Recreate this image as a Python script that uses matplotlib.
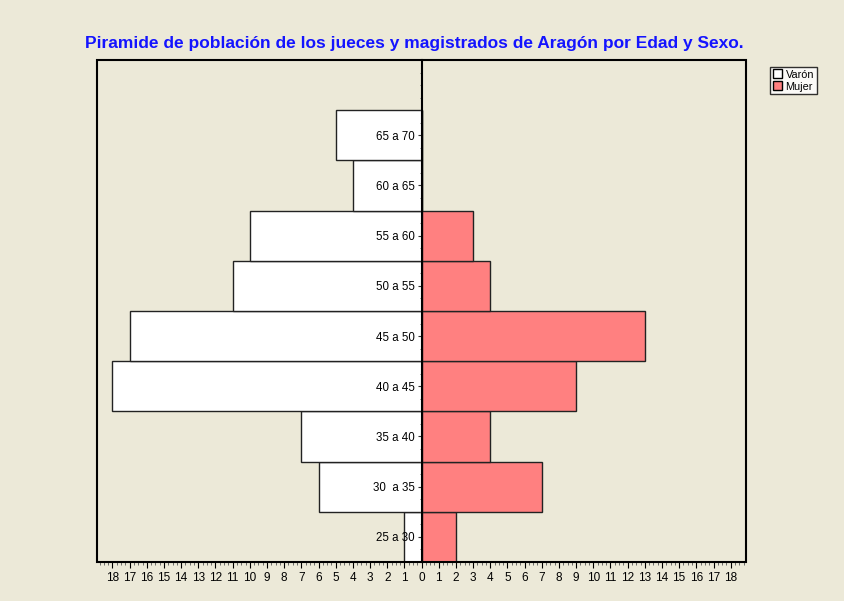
import matplotlib.pyplot as plt
from matplotlib.patches import Rectangle, Patch
from matplotlib.ticker import MultipleLocator, FuncFormatter

plt.rcParams['font.family'] = ['Liberation Sans', 'DejaVu Sans']

grupos = ['25 a 30', '30  a 35', '35 a 40', '40 a 45', '45 a 50',
          '50 a 55', '55 a 60', '60 a 65', '65 a 70']
varones = [1, 6, 7, 18, 17, 11, 10, 4, 5]
mujeres = [2, 7, 4, 9, 13, 4, 3, 0, 0]

bg = '#ECE9D8'
fig = plt.figure(figsize=(8.45, 6.01), dpi=100, facecolor=bg)
ax = fig.add_axes([0.1148, 0.0649, 0.7682, 0.8353], facecolor=bg)

y = range(len(grupos))
ax.barh(y, [-v for v in varones], height=1.0, color='white',
        edgecolor='#222222', linewidth=1, label='Varón', zorder=1)
ax.barh(y, mujeres, height=1.0, color='#FF8080',
        edgecolor='#222222', linewidth=1, label='Mujer', zorder=1)

ax.set_xlim(-18.9, 18.9)
ax.set_ylim(-0.5, 9.5)

# eje vertical en el cero
for s in ['top', 'right', 'bottom']:
    ax.spines[s].set_visible(False)
ax.spines['left'].set_position(('data', 0))
ax.spines['left'].set_linewidth(1.5)
ax.add_patch(Rectangle((0, 0), 1, 1, transform=ax.transAxes, fill=False,
                       lw=1.5, edgecolor='black', clip_on=False, zorder=3))

ax.set_yticks(list(y))
ax.set_yticklabels(grupos)
ax.yaxis.set_minor_locator(MultipleLocator(0.25))
ax.tick_params(axis='y', which='major', direction='out', length=3,
               labelsize=8.3, pad=2, color='#333333')
ax.tick_params(axis='y', which='minor', direction='out', length=1.5,
               color='#555555')

ax.xaxis.set_major_locator(MultipleLocator(1))
ax.xaxis.set_minor_locator(MultipleLocator(0.25))
ax.xaxis.set_major_formatter(FuncFormatter(lambda v, p: f'{abs(int(round(v)))}'))
ax.tick_params(axis='x', which='major', direction='out', length=4,
               labelsize=8.5, pad=3)
ax.tick_params(axis='x', which='minor', direction='out', length=2,
               color='#555555')
ax.set_xticks(range(-18, 19))

fig.text(0.49, 0.927, 'Piramide de población de los jueces y magistrados de Aragón por Edad y Sexo.',
         ha='center', va='center', color='#1414FF', fontsize=12.5, fontweight='bold')

fig.legend(handles=[Patch(facecolor='white', edgecolor='black', label='Varón'),
                    Patch(facecolor='#FF8080', edgecolor='black', label='Mujer')],
           loc='upper left', bbox_to_anchor=(0.911, 0.889), fontsize=7.8,
           frameon=True, fancybox=False, edgecolor='black', facecolor='white',
           handlelength=0.9, handleheight=0.9, handletextpad=0.3,
           borderpad=0.25, labelspacing=0.15, borderaxespad=0)

fig.savefig('out.png', dpi=100, facecolor=bg)
